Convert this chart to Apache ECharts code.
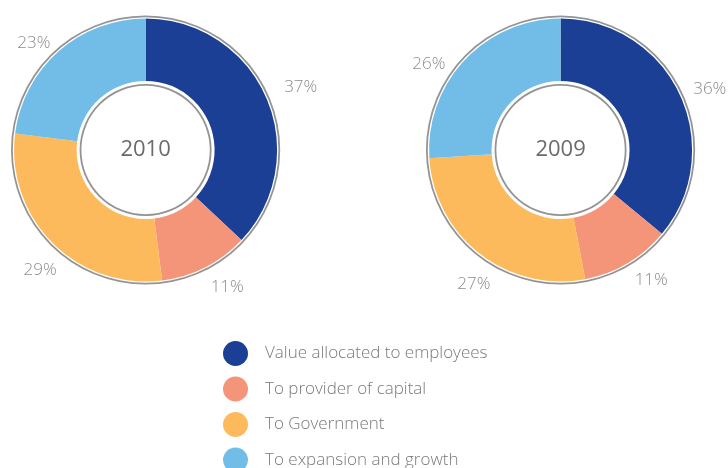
<!DOCTYPE html>
<html>
<head>
<meta charset="utf-8">
<script src="https://cdn.jsdelivr.net/npm/echarts@6/dist/echarts.min.js"></script>
<style>
  html, body { margin: 0; padding: 0; background: #fff; }
  #chart { width: 728px; height: 468px; }
</style>
</head>
<body>
<div id="chart"></div>
<script>
// Value distribution by year
var categories = ['Value allocated to employees', 'To provider of capital', 'To Government', 'To expansion and growth'];
var years = ['2010', '2009'];
var values2010 = [37, 11, 29, 23];
var values2009 = [36, 11, 27, 26];
var palette = ['#1b3f94', '#f4957a', '#fdba5c', '#71bde8'];

// small hand adjustments of the percentage labels, per slice [dx, dy]
var labelShift2010 = [[3, -5], [-3, 8], [16, 17], [3, 2]];
var labelShift2009 = [[-1, 1], [-2, 5], [21, 19], [-7, 14]];

var FONT = '"Open Sans", "Noto Sans", sans-serif';
var centers = [['20%', 150], ['77%', 150]];

function donut(values, center) {
  return {
    type: 'pie',
    center: center,
    radius: [69, 131.5],
    startAngle: 90,
    clockwise: true,
    avoidLabelOverlap: false,
    emphasis: { disabled: true },
    itemStyle: { borderWidth: 0 },
    label: {
      show: true,
      position: 'outside',
      formatter: '{c}%',
      color: '#8c8c8c',
      fontFamily: FONT,
      fontWeight: 300,
      fontSize: 17,
      distanceToLabelLine: 2
    },
    labelLine: { show: false, length: 14, length2: 0 },
    data: categories.map(function (name, i) {
      return { name: name, value: values[i] };
    })
  };
}

function ring(center, inner, outer, text) {
  return {
    type: 'pie',
    center: center,
    radius: [inner, outer],
    silent: true,
    emphasis: { disabled: true },
    labelLine: { show: false },
    label: text ? {
      show: true,
      position: 'center',
      formatter: text,
      color: '#6b6b6b',
      fontFamily: FONT,
      fontSize: 22
    } : { show: false },
    itemStyle: { color: '#949494' },
    data: [{ name: 'ring', value: 1 }]
  };
}

var shifts = { 0: labelShift2010, 3: labelShift2009 };

var chart = echarts.init(document.getElementById('chart'), null, { renderer: 'canvas' });
chart.setOption({
  animation: false,
  color: palette,
  legend: {
    data: categories,
    orient: 'vertical',
    left: 218,
    top: 336,
    height: 200,
    icon: 'circle',
    itemWidth: 25,
    itemHeight: 25,
    itemGap: 10.5,
    selectedMode: false,
    textStyle: {
      color: '#7a7a7a',
      fontFamily: FONT,
      fontWeight: 300,
      fontSize: 17,
      padding: [0, 0, 0, 12]
    }
  },
  series: [
    donut(values2010, centers[0]),
    ring(centers[0], 132.8, 134.6),
    ring(centers[0], 64.2, 66, years[0]),
    donut(values2009, centers[1]),
    ring(centers[1], 132.8, 134.6),
    ring(centers[1], 64.2, 66, years[1])
  ].map(function (s, idx) {
    if (shifts[idx]) {
      s.labelLayout = function (p) {
        var d = shifts[idx][p.dataIndex];
        return { dx: d[0], dy: d[1] };
      };
    }
    return s;
  })
});
</script>
</body>
</html>
